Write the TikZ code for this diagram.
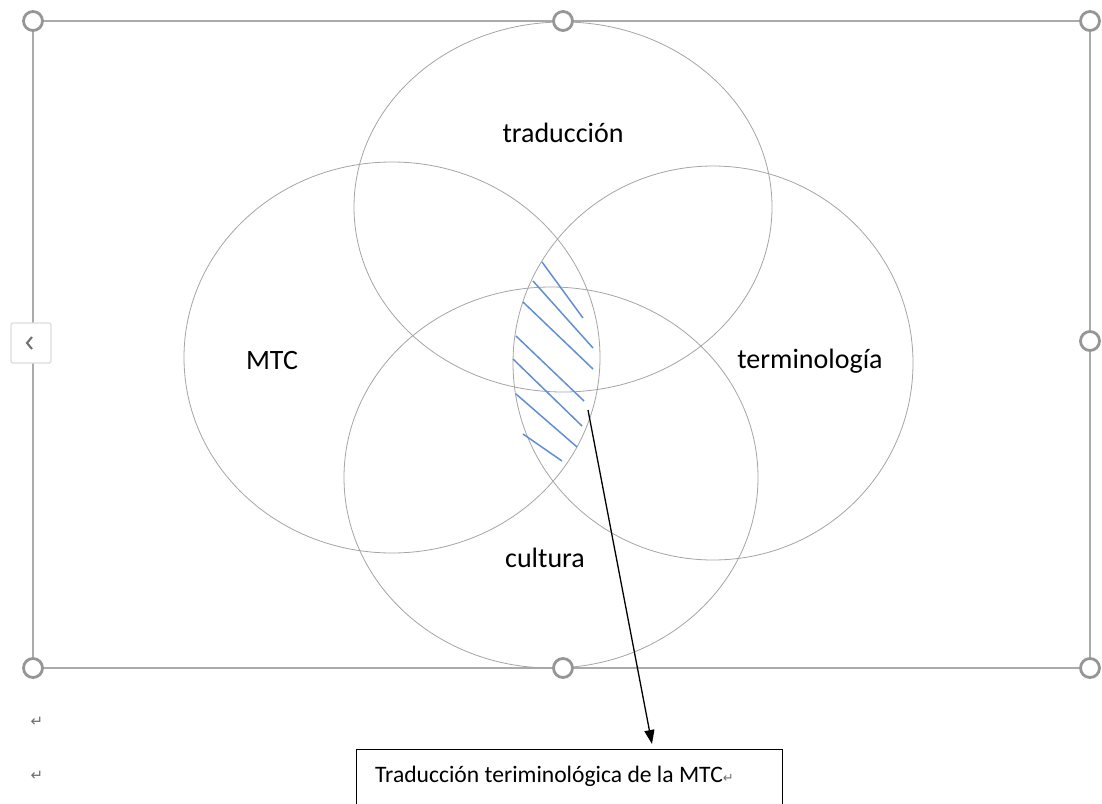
\documentclass[tikz,border=0pt]{standalone}
\usepackage{fontspec}
\setmainfont{Carlito}
\newfontfamily\symfont{DejaVu Sans}
\usetikzlibrary{arrows.meta}
\definecolor{framegray}{RGB}{170,170,170}
\definecolor{handlegray}{RGB}{150,150,150}
\definecolor{circgray}{RGB}{165,165,165}
\definecolor{hatchblue}{RGB}{98,143,212}
\definecolor{retgray}{RGB}{110,110,110}
\tikzset{
  setcircle/.style={draw=circgray, line width=0.8pt},
  framebox/.style={draw=framegray, line width=1.6pt},
  handle/.style={circle, draw=handlegray, fill=white, line width=2.8pt, minimum size=19pt, inner sep=0pt},
  setlabel/.style={font=\fontsize{28}{32}\selectfont, text=black, inner sep=0pt},
  hatch/.style={draw=hatchblue, line width=1.5pt},
  retmark/.style={font=\symfont\fontsize{15}{17}\selectfont, text=retgray, inner sep=0pt},
  notebox/.style={draw=black, line width=1.2pt, inner sep=0pt},
  pointer/.style={draw=black, line width=1.3pt, -{Triangle[length=14pt,width=10pt]}}
}
\begin{document}
\begin{tikzpicture}[x=1pt,y=-1pt]
\useasboundingbox (0,0) rectangle (1102,803);
\clip (0,0) rectangle (1102,803);
\fill[white] (0,0) rectangle (1102,803);
% selection frame
\draw[framebox] (33,21) rectangle (1090,668);
% four sets
\draw[setcircle] (563,207) ellipse [x radius=209, y radius=185];
\draw[setcircle] (392,357.5) ellipse [x radius=208, y radius=195.5];
\draw[setcircle] (713,363) ellipse [x radius=200, y radius=197];
\draw[setcircle] (551,477.5) ellipse [x radius=207, y radius=190.5];
% hatching of the lens
\draw[hatch] (542,262) -- (583,318);
\draw[hatch] (533,281) -- (593,348);
\draw[hatch] (523,302) -- (593,369);
\draw[hatch] (516,336) -- (584,401);
\draw[hatch] (513,359) -- (582,426);
\draw[hatch] (516,394) -- (577,447);
\draw[hatch] (523,434) -- (562,461);
% labels
\node[setlabel] (trad) at (563,133) {traducción};
\node[setlabel] (mtc) at (272,361) {MTC};
\node[setlabel] (term) at (810,361) {terminología};
\node[setlabel] (cult) at (545,558) {cultura};
% handles
\node[handle] (h1) at (33,21) {};
\node[handle] (h2) at (563,21) {};
\node[handle] (h3) at (1090,21) {};
\node[handle] (h4) at (1090,341) {};
\node[handle] (h5) at (33,668) {};
\node[handle] (h6) at (563,668) {};
\node[handle] (h7) at (1090,668) {};
% left layout button
\node[draw={rgb,255:red,220;green,220;blue,220}, fill=white, line width=1.2pt, rounded corners=2pt, minimum width=40pt, minimum height=40pt, inner sep=0pt] (lbtn) at (31,343) {};
\draw[draw={rgb,255:red,110;green,110;blue,110}, line width=2pt] (32,337) -- (27,343) -- (32,349);
% return marks
\node[retmark] (r1) at (37,722) {↵};
\node[retmark] (r2) at (37,776) {↵};
% note box
\node[notebox, anchor=north west, minimum width=426pt, minimum height=90pt] (box) at (356,749) {};
\node[anchor=west, font=\fontsize{23.6}{27}\selectfont, inner sep=0pt] (boxtext) at (375,776) {Traducción teriminológica de la MTC{\symfont\fontsize{13}{15}\selectfont\color{retgray}↵}};
% pointer
\coordinate (lens) at (588,410);
\coordinate (tip) at (652,744);
\draw[pointer] (lens) -- (tip);
\end{tikzpicture}
\end{document}
